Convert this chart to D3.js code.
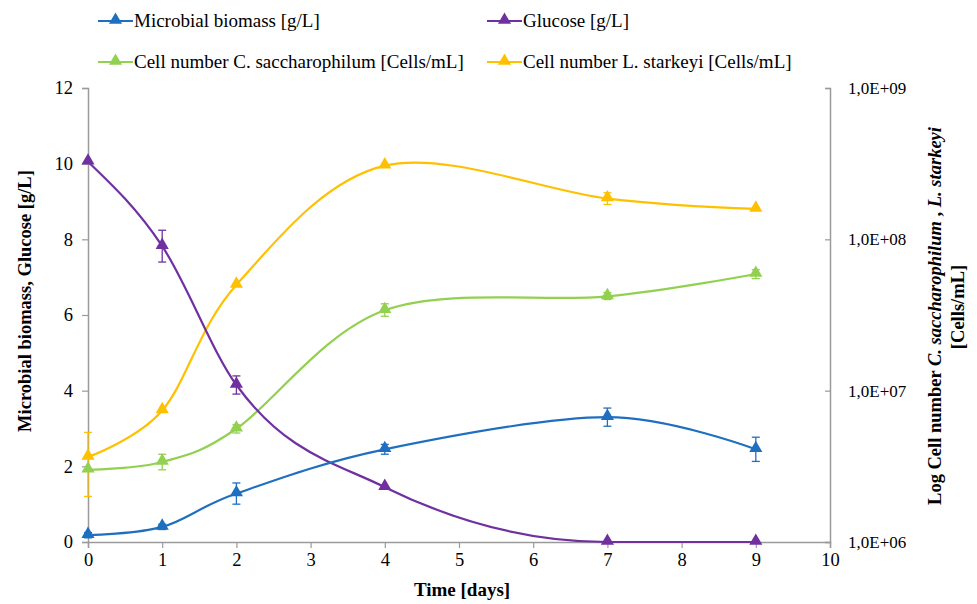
<!DOCTYPE html>
<html>
<head>
<meta charset="utf-8">
<script src="https://cdnjs.cloudflare.com/ajax/libs/d3/7.8.5/d3.min.js"></script>
<style>
  body { margin: 0; background: #fff; }
  text { font-family: "Liberation Serif", "Times New Roman", serif; fill: #000; }
</style>
</head>
<body>
<svg id="chart" width="977" height="604"></svg>
<script>
// sampling days
var days = [0, 1, 2, 4, 7, 9];

// left axis series [g/L]
var biomass    = [0.18, 0.40, 1.28, 2.45, 3.30, 2.45];
var biomassErr = [0.07, 0.07, 0.28, 0.13, 0.24, 0.32];
var glucose    = [10.05, 7.82, 4.15, 1.45, 0.0, 0.0];
var glucoseErr = [0.05, 0.42, 0.24, 0.05, 0.03, 0.03];

// right axis series [Cells/mL], log scale
var cSacch     = [3.0e6, 3.38e6, 5.6e6, 3.4e7, 4.2e7, 5.9e7];
var cSacchLo   = [3.0e6, 3.0e6, 5.25e6, 3.1e7, 4.0e7, 5.5e7];
var cSacchHi   = [3.0e6, 3.8e6, 5.95e6, 3.75e7, 4.45e7, 6.3e7];
var lStark     = [3.65e6, 7.4e6, 5.0e7, 3.07e8, 1.86e8, 1.59e8];
var lStarkLo   = [2.0e6, 7.2e6, 5.0e7, 3.0e8, 1.7e8, 1.59e8];
var lStarkHi   = [5.3e6, 7.6e6, 5.0e7, 3.14e8, 2.03e8, 1.59e8];

var leftTicks  = [0, 2, 4, 6, 8, 10, 12];
var rightTicks = [1e6, 1e7, 1e8, 1e9];
var xTicks     = [0, 1, 2, 3, 4, 5, 6, 7, 8, 9, 10];

var svg = d3.select("#chart");
var axisColor = "#9a9a9a";

var x  = d3.scaleLinear().domain([0, 10]).range([88, 830]);
var yL = d3.scaleLinear().domain([0, 12]).range([542, 88]);
var yR = d3.scaleLog().domain([1e6, 1e9]).range([542, 88]);

// axes
var gx = svg.append("g").attr("transform", "translate(0,542)")
    .call(d3.axisBottom(x).tickValues(xTicks).tickSize(6).tickPadding(5));
var gl = svg.append("g").attr("transform", "translate(88,0)")
    .call(d3.axisLeft(yL).tickValues(leftTicks).tickSize(6).tickPadding(9));
var gr = svg.append("g").attr("transform", "translate(830,0)")
    .call(d3.axisRight(yR).tickValues(rightTicks).tickSize(-5).tickPadding(18)
        .tickFormat(function(d){ return "1,0E+0" + Math.round(Math.log10(d)); }));

[gx, gl, gr].forEach(function(g){
    g.select(".domain").attr("stroke", axisColor).attr("stroke-width", 1.5);
    g.selectAll(".tick line").attr("stroke", axisColor).attr("stroke-width", 1.2);
    g.selectAll(".tick text").attr("font-size", 18.5)
        .attr("font-family", "Liberation Serif").attr("fill", "#111");
});
gr.selectAll(".tick text").attr("font-size", 17);

// axis titles
svg.append("text").attr("x", 462).attr("y", 596).attr("text-anchor", "middle")
    .attr("font-size", 19).attr("font-weight", "bold").text("Time [days]");

svg.append("text").attr("transform", "translate(31,301) rotate(-90)")
    .attr("text-anchor", "middle").attr("font-size", 18.5).attr("font-weight", "bold")
    .text("Microbial biomass, Glucose [g/L]");

var rt = svg.append("text").attr("transform", "translate(941,316) rotate(-90)")
    .attr("text-anchor", "middle").attr("font-size", 18.5).attr("font-weight", "bold");
rt.append("tspan").text("Log Cell number ");
rt.append("tspan").attr("font-style", "italic").text("C. saccharophilum");
rt.append("tspan").text(" , ");
rt.append("tspan").attr("font-style", "italic").text("L. starkeyi");
svg.append("text").attr("transform", "translate(964,307) rotate(-90)")
    .attr("text-anchor", "middle").attr("font-size", 18.5).attr("font-weight", "bold")
    .text("[Cells/mL]");

// series
var series = [
    {name: "Microbial biomass [g/L]", color: "#1f6fc1", y: yL, vals: biomass,
     curve: d3.curveCatmullRom.alpha(0),
     lo: biomass.map(function(v,i){ return v - biomassErr[i]; }),
     hi: biomass.map(function(v,i){ return v + biomassErr[i]; })},
    {name: "Glucose [g/L]", color: "#7030a0", y: yL, vals: glucose,
     curve: d3.curveMonotoneX,
     lo: glucose.map(function(v,i){ return Math.max(0, v - glucoseErr[i]); }),
     hi: glucose.map(function(v,i){ return v + glucoseErr[i]; })},
    {name: "Cell number C. saccharophilum [Cells/mL]", color: "#92d050", y: yR, vals: cSacch,
     curve: d3.curveCatmullRom.alpha(0), lo: cSacchLo, hi: cSacchHi},
    {name: "Cell number L. starkeyi [Cells/mL]", color: "#ffc000", y: yR, vals: lStark,
     curve: d3.curveCatmullRom.alpha(0), lo: lStarkLo, hi: lStarkHi}
];

var tri = d3.symbol().type(d3.symbolTriangle).size(75);

// draw bottom to top: yellow, green, purple, blue
[3, 2, 1, 0].forEach(function(k){
    var s = series[k];
    var pts = days.map(function(d, i){ return {d: d, v: s.vals[i], lo: s.lo[i], hi: s.hi[i]}; });
    var g = svg.append("g");

    var line = d3.line()
        .x(function(p){ return x(p.d); })
        .y(function(p){ return s.y(p.v); })
        .curve(s.curve);

    g.append("path").datum(pts).attr("d", line)
        .attr("fill", "none").attr("stroke", s.color).attr("stroke-width", 2.2);

    // error bars
    var eb = g.selectAll(".eb").data(pts.filter(function(p){
        return Math.abs(s.y(p.lo) - s.y(p.hi)) > 4; })).enter().append("g");
    eb.append("line")
        .attr("x1", function(p){ return x(p.d); }).attr("x2", function(p){ return x(p.d); })
        .attr("y1", function(p){ return s.y(p.lo); }).attr("y2", function(p){ return s.y(p.hi); })
        .attr("stroke", s.color).attr("stroke-width", 1.3);
    ["lo", "hi"].forEach(function(key){
        eb.append("line")
            .attr("x1", function(p){ return x(p.d) - 4; }).attr("x2", function(p){ return x(p.d) + 4; })
            .attr("y1", function(p){ return s.y(p[key]); }).attr("y2", function(p){ return s.y(p[key]); })
            .attr("stroke", s.color).attr("stroke-width", 1.3);
    });

    g.selectAll(".mk").data(pts).enter().append("path")
        .attr("d", tri)
        .attr("transform", function(p){ return "translate(" + x(p.d) + "," + (s.y(p.v) - 1) + ")"; })
        .attr("fill", s.color);
});

// legend
var legPos = [[98, 21], [487, 21], [98, 62], [487, 62]];
series.forEach(function(s, i){
    var lx = legPos[i][0], ly = legPos[i][1];
    var g = svg.append("g").attr("transform", "translate(" + lx + "," + ly + ")");
    g.append("line").attr("x1", 0).attr("x2", 35).attr("y1", 0).attr("y2", 0)
        .attr("stroke", s.color).attr("stroke-width", 2.2);
    g.append("path").attr("d", tri).attr("transform", "translate(17.5,-1)").attr("fill", s.color);
    g.append("text").attr("x", 36).attr("y", 6).attr("font-size", 19).text(s.name);
});
</script>
</body>
</html>
